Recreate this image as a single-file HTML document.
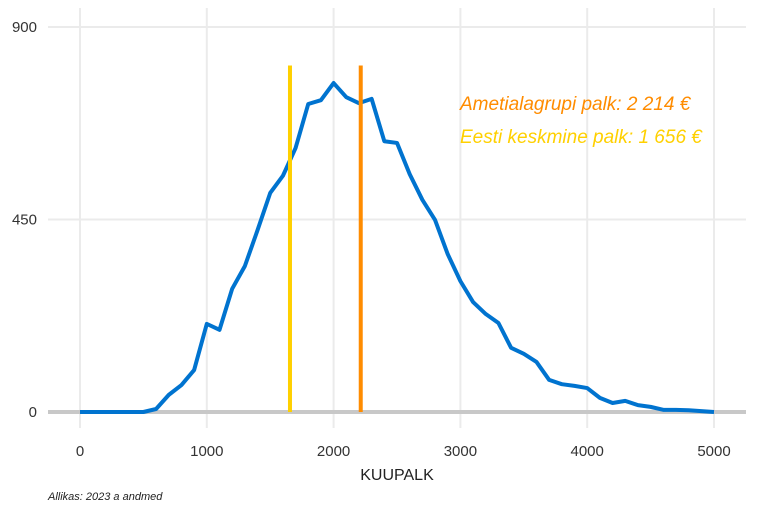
<!DOCTYPE html>
<html><head><meta charset="utf-8"><style>
body{margin:0;background:#fff;}
svg{display:block;font-family:"Liberation Sans",sans-serif;}
</style></head><body>
<svg width="768" height="512" viewBox="0 0 768 512">
<g id="grid"></g>
<g id="axes"></g>
<g id="marks"></g>
<text x="397" y="480" text-anchor="middle" font-size="16" fill="#222">KUUPALK</text>
<text x="48" y="500" font-size="11" font-style="italic" fill="#222">Allikas: 2023 a andmed</text>
<text x="460" y="110" font-size="19" font-style="italic" fill="#FF8C00">Ametialagrupi palk: 2 214 €</text>
<text x="460" y="143" font-size="19" font-style="italic" fill="#FFD000">Eesti keskmine palk: 1 656 €</text>
</svg>
<script>
const salaries=[0,100,200,300,400,500,600,700,800,900,1000,1100,1200,1300,1400,1500,1600,1700,1800,1900,2000,2100,2200,2300,2400,2500,2600,2700,2800,2900,3000,3100,3200,3300,3400,3500,3600,3700,3800,3900,4000,4100,4200,4300,4400,4500,4600,4700,4800,4900,5000];
const counts=[0,0,0,0,0,0,7,40,63,98,206,192,288,341,425,512,552,617,720,729,769,736,722,732,633,629,556,496,449,369,306,257,229,208,150,136,117,75,65,61,56,33,21,26,16,12,5,5,4,2,0];
const xTicks=[0,1000,2000,3000,4000,5000];
const yTicks=[0,450,900];
const occupationSalary=2214;
const averageSalary=1656;
const lineTop=810;
const NS="http://www.w3.org/2000/svg";
const xs=v=>80+v*(714-80)/5000;
const ys=v=>412-v*(412-27)/900;
function mk(tag,attrs,parent){const e=document.createElementNS(NS,tag);for(const k in attrs)e.setAttribute(k,attrs[k]);parent.appendChild(e);return e;}
const grid=document.getElementById('grid'),axes=document.getElementById('axes'),marks=document.getElementById('marks');
xTicks.forEach(t=>{
 const l=mk('line',{x1:xs(t),x2:xs(t),y1:8,y2:428,stroke:'#ebebeb','stroke-width':2},grid);
 
 
 const tx=mk('text',{x:xs(t),y:456,'text-anchor':'middle','font-size':15,fill:'#333'},axes);
 tx.textContent=t;
 
 
});
yTicks.forEach(t=>{
 const l=mk('line',{x1:48,x2:746,y1:ys(t),y2:ys(t),stroke:'#ebebeb','stroke-width':2},grid);
 
 
 const tx=mk('text',{x:37,y:ys(t)+5,'text-anchor':'end','font-size':15,fill:'#333'},axes);
 tx.textContent=t;
 
 
});
const base=mk('line',{x1:48,x2:746,y1:ys(0),y2:ys(0),stroke:'#c8c8c8','stroke-width':4},grid);


const pts=salaries.map((s,i)=>xs(s)+','+ys(counts[i])).join(' ');
const pl=mk('polyline',{points:pts,fill:'none',stroke:'#0073CF','stroke-width':4,'stroke-linejoin':'round'},marks);


const avg=mk('line',{x1:xs(averageSalary),x2:xs(averageSalary),y1:ys(lineTop),y2:ys(0),stroke:'#FFD000','stroke-width':4},marks);


const occ=mk('line',{x1:xs(occupationSalary),x2:xs(occupationSalary),y1:ys(lineTop),y2:ys(0),stroke:'#FF8C00','stroke-width':4},marks);


</script>
</body></html>
